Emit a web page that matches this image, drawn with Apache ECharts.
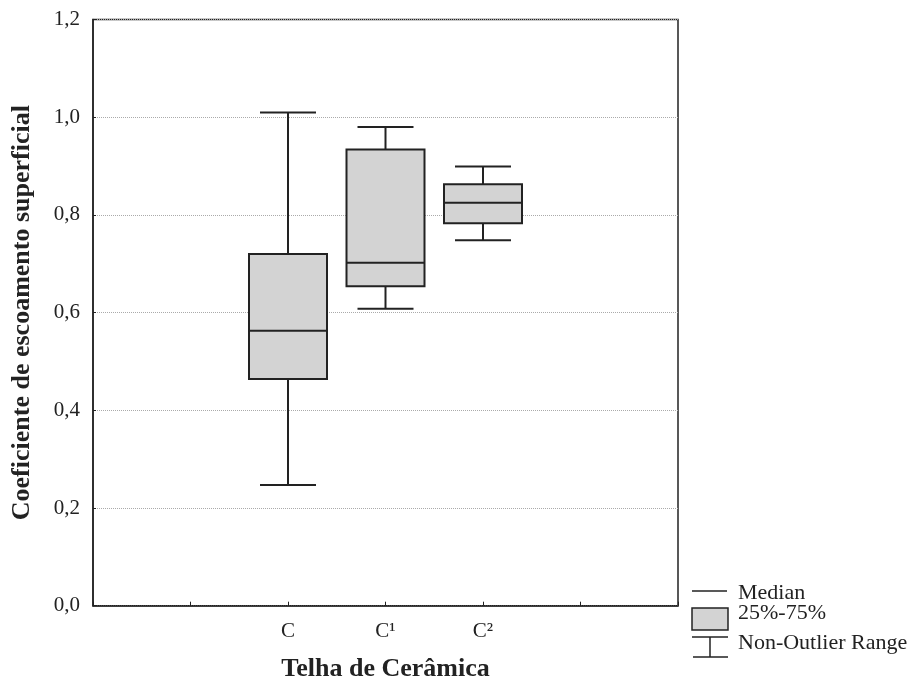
<!DOCTYPE html>
<html>
<head>
<meta charset="utf-8">
<script src="https://cdn.jsdelivr.net/npm/echarts@6/dist/echarts.min.js"></script>
<style>html,body{margin:0;padding:0;background:#fff;}#chart{width:923px;height:684px;}</style>
</head>
<body>
<div id="chart"></div>
<script>
const categories = ['C', 'C\u00B9', 'C\u00B2'];
const lowerWhisker = [0.247, 0.608, 0.748];
const q1Values = [0.464, 0.654, 0.783];
const medianValues = [0.563, 0.702, 0.825];
const q3Values = [0.720, 0.934, 0.863];
const upperWhisker = [1.010, 0.980, 0.899];
const yTicks = [0, 0.2, 0.4, 0.6, 0.8, 1.0, 1.2];
const legendLabels = ['Median', '25%-75%', 'Non-Outlier Range'];

const FONT = '"Liberation Serif", "Times New Roman", serif';
const INK = '#222';
const OFFSET = 2; // categories sit at slots 2..4 of a 0..6 axis

const boxData = categories.map((c, i) => [i + OFFSET, lowerWhisker[i], q1Values[i], medianValues[i], q3Values[i], upperWhisker[i]]);

const chart = echarts.init(document.getElementById('chart'), null, {renderer: 'canvas'});

function renderBox(params, api) {
  const x = api.value(0);
  const pLow = api.coord([x, api.value(1)]);
  const pQ1 = api.coord([x, api.value(2)]);
  const pMed = api.coord([x, api.value(3)]);
  const pQ3 = api.coord([x, api.value(4)]);
  const pUp = api.coord([x, api.value(5)]);
  const cx = pLow[0];
  const hw = 39, cw = 28;
  const ls = {stroke: INK, lineWidth: 2, fill: null};
  return {
    type: 'group',
    children: [
      {type: 'line', shape: {x1: cx, y1: pQ3[1], x2: cx, y2: pUp[1]}, style: ls},
      {type: 'line', shape: {x1: cx, y1: pQ1[1], x2: cx, y2: pLow[1]}, style: ls},
      {type: 'line', shape: {x1: cx - cw, y1: pUp[1], x2: cx + cw, y2: pUp[1]}, style: ls},
      {type: 'line', shape: {x1: cx - cw, y1: pLow[1], x2: cx + cw, y2: pLow[1]}, style: ls},
      {type: 'rect', shape: {x: cx - hw, y: pQ3[1], width: 2 * hw, height: pQ1[1] - pQ3[1]}, style: {fill: '#d3d3d3', stroke: INK, lineWidth: 2}},
      {type: 'line', shape: {x1: cx - hw, y1: pMed[1], x2: cx + hw, y2: pMed[1]}, style: ls}
    ]
  };
}

function legendText(txt, y) {
  return {type: 'text', x: 738, y: y, style: {text: txt, font: '22px ' + FONT, fill: INK, verticalAlign: 'middle', align: 'left'}};
}

chart.setOption({
  backgroundColor: '#fff',
  animation: false,
  grid: {left: 93, right: 245, top: 19.6, bottom: 78.3, outerBoundsMode: 'none', containLabel: false, show: true, borderColor: INK, borderWidth: 1.5, backgroundColor: 'transparent'},
  xAxis: {
    type: 'value', min: 0, max: 6, interval: 1,
    axisLine: {show: true, lineStyle: {color: INK, width: 1.5}},
    axisTick: {show: true, inside: true, length: 4, lineStyle: {color: INK}},
    splitLine: {show: false},
    axisLabel: {
      margin: 15, fontFamily: FONT, fontSize: 21, color: INK,
      formatter: v => categories[v - OFFSET] || ''
    },
    name: 'Telha de Cer\u00e2mica', nameLocation: 'middle', nameGap: 51,
    nameTextStyle: {fontFamily: FONT, fontSize: 26, fontWeight: 'bold', color: INK}
  },
  yAxis: {
    type: 'value', min: yTicks[0], max: yTicks[yTicks.length - 1], interval: 0.2,
    axisLine: {show: true, lineStyle: {color: INK, width: 1.5}},
    axisTick: {show: true, inside: true, length: 3, lineStyle: {color: INK}},
    splitLine: {show: true, lineStyle: {color: '#aaa', type: 'dotted', width: 1}},
    axisLabel: {
      margin: 13, fontFamily: FONT, fontSize: 21, color: INK,
      formatter: v => v.toFixed(1).replace('.', ',')
    },
    name: 'Coeficiente de escoamento superficial', nameLocation: 'middle', nameGap: 58,
    nameTextStyle: {fontFamily: FONT, fontSize: 26, fontWeight: 'bold', color: INK}
  },
  series: [{
    type: 'custom',
    renderItem: renderBox,
    encode: {x: 0, y: [1, 2, 3, 4, 5]},
    data: boxData,
    z: 5
  }],
  graphic: [
    {type: 'line', shape: {x1: 692, y1: 591, x2: 727, y2: 591}, style: {stroke: INK, lineWidth: 1.5}},
    legendText(legendLabels[0], 593),
    {type: 'rect', shape: {x: 692, y: 608, width: 36, height: 22}, style: {fill: '#d3d3d3', stroke: INK, lineWidth: 1.5}},
    legendText(legendLabels[1], 613),
    {type: 'line', shape: {x1: 692, y1: 637, x2: 728, y2: 637}, style: {stroke: INK, lineWidth: 1.5}},
    {type: 'line', shape: {x1: 710, y1: 637, x2: 710, y2: 657}, style: {stroke: INK, lineWidth: 1.5}},
    {type: 'line', shape: {x1: 693, y1: 657, x2: 728, y2: 657}, style: {stroke: INK, lineWidth: 1.5}},
    legendText(legendLabels[2], 643)
  ]
});
</script>
</body>
</html>
